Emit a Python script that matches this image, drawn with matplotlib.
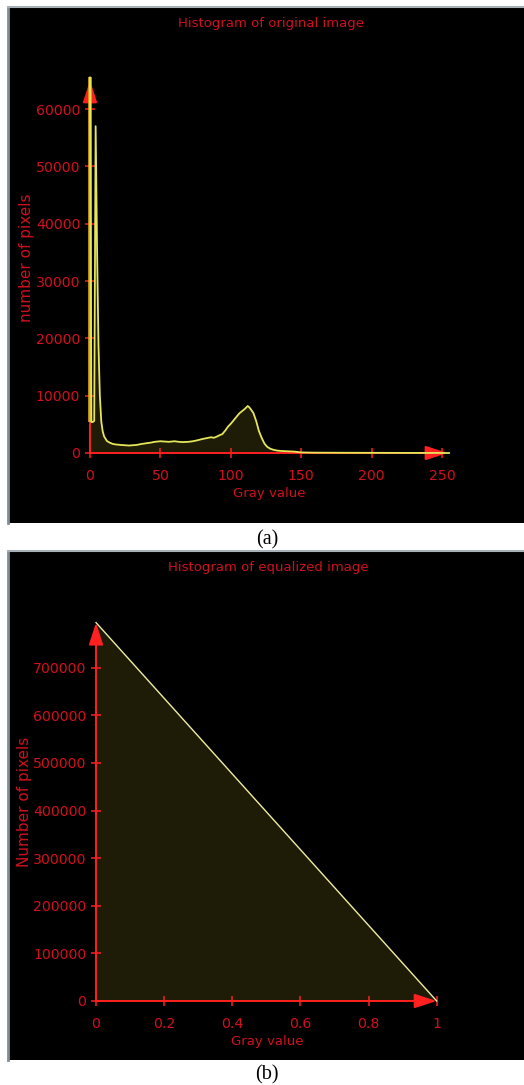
import matplotlib
matplotlib.use("Agg")
import matplotlib.pyplot as plt

# ---------------- data ----------------
gray_a = [0, 1, 2, 3, 4, 5, 6, 7, 8, 9, 10, 12, 14, 16, 18, 20, 22, 25, 28, 30,
          33, 36, 40, 43, 46, 50, 53, 56, 60, 63, 66, 70, 73, 76, 80, 83, 86, 88,
          90, 92, 94, 96, 98, 100, 102, 104, 106, 108, 110, 112, 113, 114, 116,
          118, 120, 122, 124, 126, 128, 130, 133, 136, 140, 145, 150, 160, 180,
          200, 220, 240, 255]
count_a = [65500, 5400, 5400, 5600, 57000, 36000, 19000, 10000, 5500, 3800, 2900,
           2100, 1800, 1600, 1500, 1450, 1400, 1350, 1300, 1350, 1400, 1550, 1700,
           1800, 1950, 2050, 2000, 1950, 2050, 1950, 1900, 1950, 2050, 2200, 2450,
           2600, 2750, 2650, 2850, 3100, 3300, 3900, 4600, 5100, 5700, 6300, 6900,
           7300, 7700, 8200, 8000, 7700, 7000, 5600, 3800, 2600, 1600, 1050, 750,
           580, 420, 350, 300, 250, 100, 60, 40, 30, 20, 10, 0]
xticks_a = [0, 50, 100, 150, 200, 250]
yticks_a = [0, 10000, 20000, 30000, 40000, 50000, 60000]
xmax_a = 254
ymax_a = 65000

gray_b = [0, 1]
count_b = [795000, 0]
xticks_b = [0, 0.2, 0.4, 0.6, 0.8, 1]
xticklabels_b = ["0", "0.2", "0.4", "0.6", "0.8", "1"]
yticks_b = [0, 100000, 200000, 300000, 400000, 500000, 600000, 700000]
xmax_b = 1.0
ymax_b = 795000

# ---------------- style ----------------
W, H = 524, 1085
RED_AX = "#ff2020"
RED_TXT = "#d0101e"
LINE = "#e6e65a"
FILL = "#1e1b07"
FONT = "DejaVu Sans"
TFS = 9.5
TICKFS = 10.2
YLFS = 11.0

fig = plt.figure(figsize=(W / 100, H / 100), dpi=100)
fig.patch.set_facecolor("white")


def rect(l, t, r, b):
    return [l / W, 1 - b / H, (r - l) / W, (b - t) / H]


def fx(x):
    return x / W


def fy(y):
    return 1 - y / H


def panel(l, t, r, b):
    bg = fig.add_axes(rect(l, t, r, b))
    bg.set_facecolor("black")
    bg.set_xticks([])
    bg.set_yticks([])
    for s in ["right", "bottom"]:
        bg.spines[s].set_visible(False)
    bg.spines["left"].set_color("#7f8c9a")
    bg.spines["left"].set_linewidth(2.0)
    bg.spines["top"].set_color("#a8b0b8")
    bg.spines["top"].set_linewidth(1.5)
    return bg


def data_axes(pos, xlim, ylim):
    ax = fig.add_axes(pos)
    ax.patch.set_alpha(0)
    ax.set_xlim(*xlim)
    ax.set_ylim(*ylim)
    for s in ["top", "right"]:
        ax.spines[s].set_visible(False)
    ax.spines["left"].set_position(("data", 0))
    ax.spines["bottom"].set_position(("data", 0))
    ax.spines["left"].set_visible(False)
    ax.spines["bottom"].set_visible(False)
    ax.tick_params(direction="inout", length=7.2, width=1.1, color=RED_AX,
                   labelcolor=RED_TXT, labelsize=TICKFS)
    ax.tick_params(axis="x", pad=7.8)
    ax.tick_params(axis="y", pad=3.4)
    return ax


def axis_arrows(ax, xmax, ymax):
    style = "-|>,head_length=0.68,head_width=0.22"
    ax.annotate("", xy=(xmax, 0), xytext=(0, 0),
                arrowprops=dict(arrowstyle=style, color=RED_AX, lw=1.4,
                                mutation_scale=20, shrinkA=0, shrinkB=0),
                annotation_clip=False, zorder=2)
    ax.annotate("", xy=(0, ymax), xytext=(0, 0),
                arrowprops=dict(arrowstyle=style, color=RED_AX, lw=1.4,
                                mutation_scale=20, shrinkA=0, shrinkB=0),
                annotation_clip=False, zorder=2)


def ftext(x, y, s, **kw):
    kw.setdefault("ha", "center")
    kw.setdefault("va", "center")
    fig.text(fx(x), fy(y), s, **kw)


# ---------------- panel (a) ----------------
panel(8, 7, 524, 523)
sx_a = 1.408
sy_a = 57.33 / 10000
x0a, y0a = 90, 453
xl_a = (-5, 262)
yl_a = (-2000, 68000)
axA = data_axes(rect(x0a + xl_a[0] * sx_a, y0a - yl_a[1] * sy_a,
                     x0a + xl_a[1] * sx_a, y0a - yl_a[0] * sy_a), xl_a, yl_a)
axis_arrows(axA, xmax_a, ymax_a)
axA.fill_between(gray_a, count_a, 0, color=FILL, lw=0, zorder=1)
axA.vlines(gray_a[0], count_a[1], count_a[0], color="#e0ac20", lw=2.6, zorder=3)
axA.plot(gray_a, count_a, color=LINE, lw=1.3, zorder=4, solid_joinstyle="round")
axA.set_xticks(xticks_a)
axA.set_yticks(yticks_a)
axA.set_xticklabels([str(v) for v in xticks_a], fontfamily=FONT)
axA.set_yticklabels([str(v) for v in yticks_a], fontfamily=FONT)

ftext(271, 23, "Histogram of original image", color=RED_TXT, fontsize=TFS,
      fontfamily=FONT)
ftext(269, 494, "Gray value", color=RED_TXT, fontsize=TFS, fontfamily=FONT)
ftext(26, 258, "number of pixels", color=RED_TXT, fontsize=YLFS,
      fontfamily=FONT, rotation=90)
ftext(267, 540, "(a)", color="black", fontsize=14.5, fontfamily="Liberation Serif")

# ---------------- panel (b) ----------------
panel(8, 551, 524, 1060)
sx_b = 340.7
sy_b = 47.6 / 100000
x0b, y0b = 96, 1001
xl_b = (-0.05, 1.06)
yl_b = (-50000, 850000)
axB = data_axes(rect(x0b + xl_b[0] * sx_b, y0b - yl_b[1] * sy_b,
                     x0b + xl_b[1] * sx_b, y0b - yl_b[0] * sy_b), xl_b, yl_b)
axis_arrows(axB, xmax_b, ymax_b)
axB.fill_between(gray_b, count_b, 0, color=FILL, lw=0, zorder=1)
axB.plot(gray_b, count_b, color="#eeeea0", lw=1.0, zorder=4)
axB.set_xticks(xticks_b)
axB.set_yticks(yticks_b)
axB.set_xticklabels(xticklabels_b, fontfamily=FONT)
axB.set_yticklabels([str(v) for v in yticks_b], fontfamily=FONT)

ftext(268, 567, "Histogram of equalized image", color=RED_TXT, fontsize=TFS,
      fontfamily=FONT)
ftext(267, 1041, "Gray value", color=RED_TXT, fontsize=TFS, fontfamily=FONT)
ftext(25, 802, "Number of pixels", color=RED_TXT, fontsize=YLFS,
      fontfamily=FONT, rotation=90)
ftext(267, 1075, "(b)", color="black", fontsize=14.5, fontfamily="Liberation Serif")

fig.savefig("out.png", dpi=100, facecolor="white")
